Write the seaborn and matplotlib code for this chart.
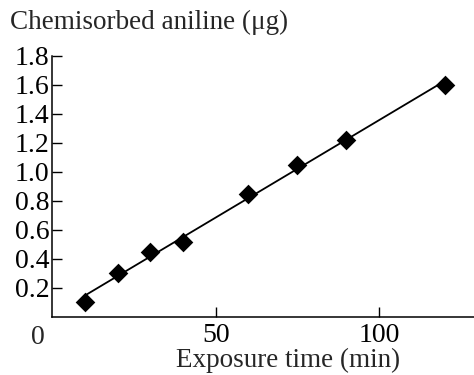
import numpy as np
import pandas as pd
import matplotlib
matplotlib.use("Agg")
import matplotlib.pyplot as plt
import seaborn as sns

# data
exposure_min = [10, 20, 30, 40, 60, 75, 90, 120]
aniline_ug = [0.10, 0.30, 0.45, 0.52, 0.85, 1.05, 1.22, 1.60]
y_ticks = [0.2, 0.4, 0.6, 0.8, 1.0, 1.2, 1.4, 1.6, 1.8]
x_ticks = [50, 100]

sns.set_style("ticks")
plt.rcParams["font.family"] = ["Liberation Serif", "DejaVu Serif"]

df = pd.DataFrame({"t": exposure_min, "a": aniline_ug})

fig = plt.figure(figsize=(4.74, 3.75), dpi=100)
ax = fig.add_axes([0.110, 0.1547, 0.890, 0.696])

sns.regplot(data=df, x="t", y="a", ax=ax, ci=None, truncate=True,
            marker="D", color="black",
            scatter_kws={"s": 100, "linewidths": 0, "alpha": 1},
            line_kws={"linewidth": 1.3})

ax.set_xlim(0, 129)
ax.set_ylim(0, 1.8)
ax.set_xticks(x_ticks)
ax.set_yticks(y_ticks)
ax.set_yticklabels([f"{v:.1f}" for v in y_ticks])
ax.tick_params(direction="in", length=7, width=1, labelsize=20, colors="black", pad=4)
ax.tick_params(axis="y", pad=2)
sns.despine(ax=ax)
for s in ["left", "bottom"]:
    ax.spines[s].set_linewidth(1.1)
    ax.spines[s].set_color("black")

ax.set_xlabel("")
ax.set_ylabel("")
fig.text(0.021, 0.94, "Chemisorbed aniline (μg)", fontsize=19.5, ha="left", va="center")
fig.text(0.608, 0.04, "Exposure time (min)", fontsize=19.5, ha="center", va="center")
fig.text(0.080, 0.10, "0", fontsize=20, ha="center", va="center")

fig.savefig("out.png", dpi=100)
